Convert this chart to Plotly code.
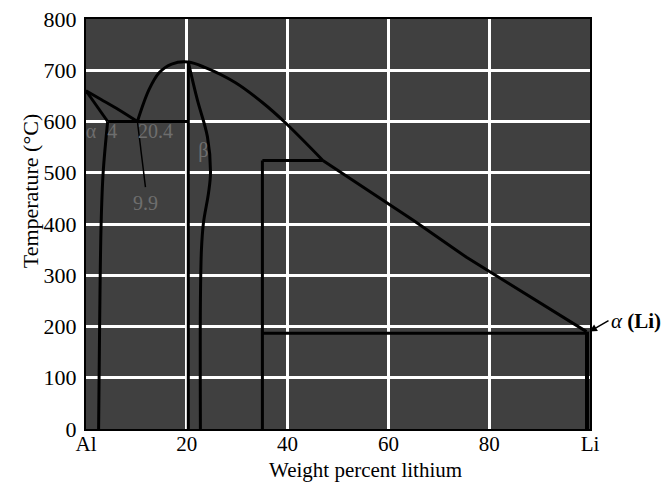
import plotly.graph_objects as go

# ---- data (wt% Li, temperature in C) ----
liq_left_x = [0, 3, 6.5, 10.2]
liq_left_y = [660, 643, 623, 600]

alpha_sol_x = [0, 4.3]
alpha_sol_y = [660, 600]
alpha_solvus_x = [4.3, 3.4, 3.0, 2.7, 2.5]
alpha_solvus_y = [600, 500, 400, 200, 0]

eut_x = [4.3, 20.3]
eut_y = [600, 600]

beta_liq_x = [10.2, 12.5, 14.5, 17, 20.3, 23.7, 29.6, 35, 39.5, 47]
beta_liq_y = [600, 662, 695, 712, 716, 705, 676, 637, 598, 524]
liq_right_x = [47, 65, 75.5, 99.3]
liq_right_y = [524, 407, 335, 190]

beta_left_x = [20.3, 20.3]
beta_left_y = [716, 0]
beta_right_x = [20.3, 22.1, 24.1, 24.7, 24.3, 23.3, 22.9, 22.7, 22.7]
beta_right_y = [716, 642, 570, 500, 460, 402, 349, 246, 0]

peri_x = [35, 47]
peri_y = [524, 524]
phase35_x = [35, 35]
phase35_y = [524, 0]

li_eut_x = [35, 99.5]
li_eut_y = [187, 187]
li_ss_x = [99.4, 99.4]
li_ss_y = [190, 0]

leader_x = [10.2, 11.8]
leader_y = [600, 472]

x_ticks = [0, 20, 40, 60, 80, 100]
x_tick_labels = ["Al", "20", "40", "60", "80", "Li"]
y_ticks = [0, 100, 200, 300, 400, 500, 600, 700, 800]

labels_txt = ["α", "4", "20.4", "β", "9.9"]
labels_x = [1.0, 5.2, 13.8, 23.3, 11.8]
labels_y = [577, 577, 577, 540, 437]

fig = go.Figure()

def add_line(x, y, shape="linear", w=3):
    fig.add_trace(go.Scatter(x=x, y=y, mode="lines",
                             line=dict(color="black", width=w, shape=shape),
                             showlegend=False, hoverinfo="skip"))

add_line(liq_left_x, liq_left_y, "spline")
add_line(alpha_sol_x, alpha_sol_y)
add_line(alpha_solvus_x, alpha_solvus_y, "spline")
add_line(eut_x, eut_y)
add_line(beta_liq_x, beta_liq_y, "spline")
add_line(liq_right_x, liq_right_y)
add_line(beta_left_x, beta_left_y)
add_line(beta_right_x, beta_right_y, "spline")
add_line(peri_x, peri_y)
add_line(phase35_x, phase35_y)
add_line(li_eut_x, li_eut_y)
add_line(li_ss_x, li_ss_y, w=4)
add_line(leader_x, leader_y, w=1.5)

fig.add_trace(go.Scatter(x=labels_x, y=labels_y, mode="text", text=labels_txt,
                         textfont=dict(family="Liberation Serif", size=20, color="#6e6e6e"),
                         showlegend=False, hoverinfo="skip"))

fig.add_annotation(x=99.9, y=190, xref="x", yref="y",
                   text="<i>α</i> <b>(Li)</b>", showarrow=True,
                   arrowhead=2, arrowsize=1, arrowwidth=1.5, arrowcolor="black",
                   ax=19, ay=-11, xanchor="left",
                   font=dict(family="Liberation Serif", size=21, color="black"))

# axis titles placed as annotations
fig.add_annotation(x=0.555, y=-0.1, xref="paper", yref="paper",
                   text="Weight percent lithium", showarrow=False,
                   xanchor="center", yanchor="middle",
                   font=dict(family="Liberation Serif", size=21, color="black"))
fig.add_annotation(x=-0.111, y=0.58, xref="paper", yref="paper",
                   text="Temperature (°C)", showarrow=False, textangle=-90,
                   xanchor="center", yanchor="middle",
                   font=dict(family="Liberation Serif", size=22, color="black"))

# body has an 8px page margin, so the figure is sized/offset to compensate
fig.update_layout(
    width=661, height=483,
    margin=dict(l=78, r=79, t=11, b=62),
    paper_bgcolor="white",
    plot_bgcolor="#404040",
    font=dict(family="Liberation Serif", size=21, color="black"),
)
fig.update_xaxes(range=[0, 100], tickvals=x_ticks, ticktext=x_tick_labels,
                 showgrid=True, gridcolor="white", gridwidth=2.5,
                 showline=True, linecolor="black", linewidth=2, mirror=True,
                 zeroline=False, ticks="", automargin=False,
                 ticklabelstandoff=-5, ticklabeloverflow="allow",
                 tickfont=dict(family="Liberation Serif", size=21))
fig.update_yaxes(range=[0, 800], tickvals=y_ticks,
                 showgrid=True, gridcolor="white", gridwidth=2.5,
                 showline=True, linecolor="black", linewidth=2, mirror=True,
                 zeroline=False, ticks="", automargin=False,
                 ticklabelstandoff=3, ticklabeloverflow="allow",
                 tickfont=dict(family="Liberation Serif", size=22))

fig.write_html("out.html")
